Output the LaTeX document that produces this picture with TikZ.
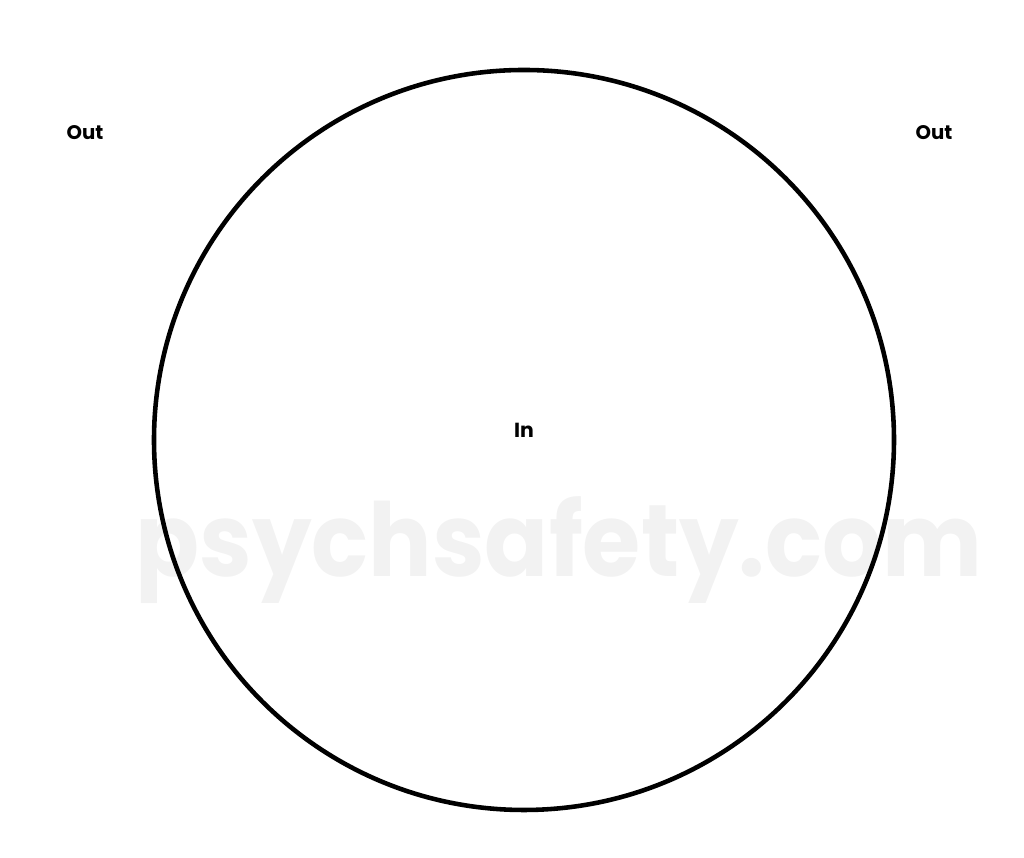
\documentclass[tikz,border=0pt]{standalone}
\usepackage{fontspec}
\setmainfont{Poppins}
\newfontfamily\markfont[FakeStretch=0.925]{Poppins}
\usepackage{tikz}

\begin{document}
\begin{tikzpicture}
    \useasboundingbox (0,0) rectangle (10.24,8.58);
    \node[anchor=base, text=black!5, font=\fontsize{29}{29}\markfont\bfseries] (mark) at (5.59,2.81) {psychsafety.com};
    \draw[line width=1.3pt] (5.24,4.18) circle (3.70);
    \node[font=\fontsize{5.6}{6}\selectfont\bfseries] (outleft) at (0.85,7.25) {Out};
    \node[font=\fontsize{5.6}{6}\selectfont\bfseries] (outright) at (9.34,7.25) {Out};
    \node[font=\fontsize{5.8}{6}\selectfont\bfseries] (in) at (5.24,4.28) {In};
  \end{tikzpicture}
\end{document}
